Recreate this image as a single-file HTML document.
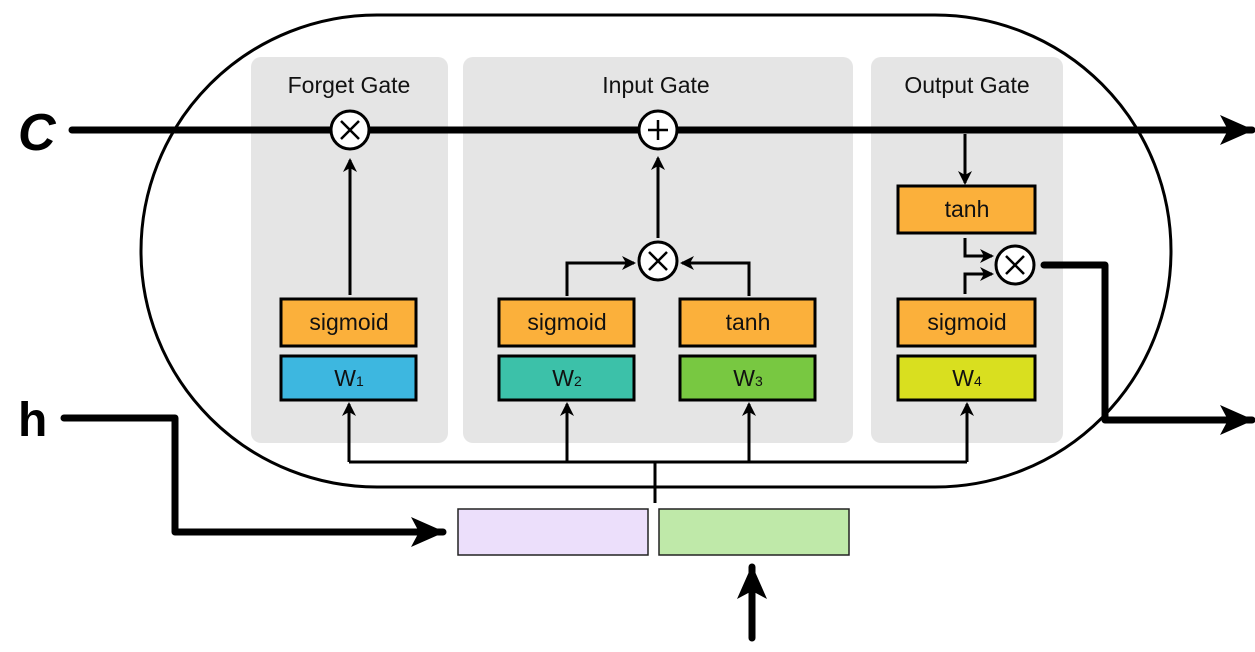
<!DOCTYPE html>
<html><head><style>
html,body{margin:0;padding:0;background:#fff;}
svg text{font-family:"Liberation Sans",sans-serif;}
</style></head><body>
<svg width="1255" height="647" viewBox="0 0 1255 647" xmlns="http://www.w3.org/2000/svg">
<defs>
<marker id="a" markerWidth="14" markerHeight="14" refX="12" refY="7" orient="auto" markerUnits="userSpaceOnUse"><path d="M0,0 L14,7 L0,14 L4,7 Z" fill="#000"/></marker>
<marker id="b" markerWidth="34" markerHeight="30" refX="32" refY="15" orient="auto" markerUnits="userSpaceOnUse"><path d="M0,0 L34,15 L0,30 L8,15 Z" fill="#000"/></marker>
</defs>
<rect x="141" y="15" width="1030" height="472" rx="236" fill="#fff" stroke="#000" stroke-width="3"/>
<rect x="251" y="57" width="197" height="386" rx="10" fill="#e5e5e5"/>
<rect x="463" y="57" width="390" height="386" rx="10" fill="#e5e5e5"/>
<rect x="871" y="57" width="192" height="386" rx="10" fill="#e5e5e5"/>
<g font-size="23" text-anchor="middle" fill="#111">
<text x="349" y="93">Forget Gate</text>
<text x="656" y="93">Input Gate</text>
<text x="967" y="93">Output Gate</text>
</g>
<text x="18" y="150" font-size="52" font-weight="bold" font-style="italic">C</text>
<text x="18" y="436" font-size="48" font-weight="bold">h</text>
<line x1="72" y1="130" x2="1252" y2="130" stroke="#000" stroke-width="7" stroke-linecap="round" marker-end="url(#b)"/>
<g stroke="#000" stroke-width="3" fill="none">
<line x1="350" y1="295" x2="350" y2="160" marker-end="url(#a)"/>
<line x1="658" y1="238" x2="658" y2="158" marker-end="url(#a)"/>
<polyline points="567,296 567,263 634,263" marker-end="url(#a)"/>
<polyline points="749,296 749,263 682,263" marker-end="url(#a)"/>
<line x1="965" y1="134" x2="965" y2="183" marker-end="url(#a)"/>
<polyline points="965,238 965,256 992,256" marker-end="url(#a)"/>
<polyline points="965,294 965,274 992,274" marker-end="url(#a)"/>
<polyline points="349,462 967,462"/>
<line x1="655" y1="462" x2="655" y2="503"/>
<line x1="349" y1="462" x2="349" y2="404" marker-end="url(#a)"/>
<line x1="567" y1="462" x2="567" y2="404" marker-end="url(#a)"/>
<line x1="749" y1="462" x2="749" y2="404" marker-end="url(#a)"/>
<line x1="967" y1="462" x2="967" y2="404" marker-end="url(#a)"/>
</g>
<g stroke="#000" stroke-width="7" fill="none" stroke-linecap="round" stroke-linejoin="round">
<polyline points="64,418 175,418 175,532 443,532" marker-end="url(#b)"/>
<polyline points="1044,265 1105,265 1105,420 1252,420" marker-end="url(#b)"/>
<line x1="752" y1="638" x2="752" y2="567" marker-end="url(#b)"/>
</g>
<g stroke="#000" stroke-width="3" fill="#fff">
<circle cx="350" cy="130" r="19"/>
<circle cx="658" cy="130" r="19"/>
<circle cx="658" cy="261" r="19"/>
<circle cx="1015" cy="265" r="19"/>
</g>
<g stroke="#000" stroke-width="2.5">
<path d="M341,121 L359,139 M359,121 L341,139"/>
<path d="M658,120 L658,140 M648,130 L668,130"/>
<path d="M649,252 L667,270 M667,252 L649,270"/>
<path d="M1006,256 L1024,274 M1024,256 L1006,274"/>
</g>
<g stroke="#000" stroke-width="3">
<rect x="281" y="299" width="135" height="47" fill="#fbb03b"/>
<rect x="281" y="356" width="135" height="44" fill="#3db7e0"/>
<rect x="499" y="299" width="135" height="47" fill="#fbb03b"/>
<rect x="499" y="356" width="135" height="44" fill="#3cc1a9"/>
<rect x="680" y="299" width="135" height="47" fill="#fbb03b"/>
<rect x="680" y="356" width="135" height="44" fill="#78c841"/>
<rect x="898" y="186" width="137" height="47" fill="#fbb03b"/>
<rect x="898" y="299" width="137" height="47" fill="#fbb03b"/>
<rect x="898" y="356" width="137" height="44" fill="#d9df1f"/>
</g>
<g stroke="#222" stroke-width="1.5">
<rect x="458" y="509" width="190" height="46" fill="#ecdffb"/>
<rect x="659" y="509" width="190" height="46" fill="#bfe9a9"/>
</g>
<g font-size="23" text-anchor="middle" fill="#111">
<text x="349" y="330">sigmoid</text>
<text x="567" y="330">sigmoid</text>
<text x="748" y="330">tanh</text>
<text x="967" y="217">tanh</text>
<text x="967" y="330">sigmoid</text>
<text x="349" y="386">W<tspan font-size="14">1</tspan></text>
<text x="567" y="386">W<tspan font-size="14">2</tspan></text>
<text x="748" y="386">W<tspan font-size="14">3</tspan></text>
<text x="967" y="386">W<tspan font-size="14">4</tspan></text>
</g>
</svg>
</body></html>
